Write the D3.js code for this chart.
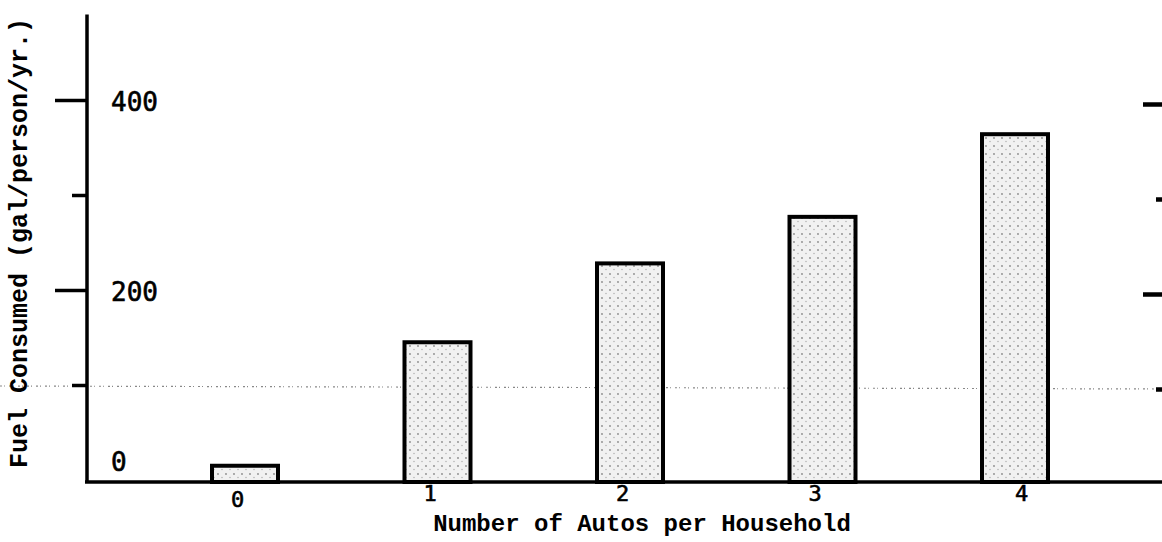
<!DOCTYPE html>
<html>
<head>
<meta charset="utf-8">
<script src="https://cdn.jsdelivr.net/npm/d3@7"></script>
<style>
  body { margin: 0; background: #fff; }
  svg { display: block; }
</style>
</head>
<body>
<div id="chart"></div>
<script>
const categories = ['0', '1', '2', '3', '4']
const fuelValues = [15, 145, 228, 277, 364]
const labelTicks = [0, 200, 400]
const majorTicks = [200, 400]
const minorTicks = [100, 300]

const width = 1162
const height = 542
const margin = { left: 87, right: 0, top: 14, bottom: 62 }

const svg = d3.select('#chart').append('svg').attr('width', width).attr('height', height)

const defs = svg.append('defs')
const pat = defs.append('pattern').attr('id', 'stipple')
    .attr('patternUnits', 'userSpaceOnUse').attr('width', 8).attr('height', 8)
pat.append('rect').attr('width', 8).attr('height', 8).attr('fill', '#f1f1f1')
pat.append('circle').attr('cx', 2).attr('cy', 2).attr('r', 0.9).attr('fill', '#8a8a8a')
pat.append('circle').attr('cx', 6).attr('cy', 5.5).attr('r', 0.7).attr('fill', '#aaa')

const xScale = d3.scalePoint().domain(categories).range([245, 1015])
const yScale = d3.scaleLinear().domain([0, 500]).range([480, 5])
const barWidth = 66

// faint scan line across the page
svg.append('line')
    .attr('x1', 0).attr('x2', width)
    .attr('y1', yScale(100) + 1).attr('y2', yScale(100) + 4)
    .attr('stroke', '#888').attr('stroke-width', 1.2).attr('stroke-dasharray', '2,2,1,4')

// bars
svg.append('g').selectAll('.bar')
    .data(fuelValues)
    .enter().append('rect').attr('class', 'bar')
    .attr('x', (d, i) => xScale(categories[i]) - barWidth / 2)
    .attr('y', d => yScale(d))
    .attr('width', barWidth)
    .attr('height', d => yScale(0) + 2 - yScale(d))
    .attr('fill', 'url(#stipple)')
    .attr('stroke', '#000').attr('stroke-width', 4)

// left axis ticks
const yArea = svg.append('g').attr('transform', `translate(${margin.left},0)`)
yArea.call(d3.axisLeft(yScale).tickValues(majorTicks.concat(minorTicks)).tickFormat('').tickSizeOuter(0))
yArea.select('.domain').remove()
yArea.selectAll('.tick line')
    .attr('x2', d => majorTicks.includes(d) ? -32 : -15)
    .attr('stroke', '#000').attr('stroke-width', 3.5)
yArea.append('line')
    .attr('x1', 0).attr('x2', 0)
    .attr('y1', yScale(0) + 3).attr('y2', yScale(490))
    .attr('stroke', '#000').attr('stroke-width', 3.5)

// right side ticks (edge of the page)
const rArea = svg.append('g').attr('transform', `translate(${width},4)`)
rArea.call(d3.axisLeft(yScale).tickValues(majorTicks.concat(minorTicks)).tickFormat('').tickSizeOuter(0))
rArea.select('.domain').remove()
rArea.selectAll('.tick line')
    .attr('x2', d => majorTicks.includes(d) ? -19 : -6)
    .attr('stroke', '#000').attr('stroke-width', 4.5)

// y tick labels, placed inside the plot
svg.append('g').selectAll('text')
    .data(labelTicks)
    .enter().append('text')
    .attr('x', 111)
    .attr('y', d => d === 0 ? yScale(d) - 9 : yScale(d) + 11)
    .attr('font-family', 'DejaVu Sans Mono')
    .attr('font-size', 26)
    .attr('stroke', '#000').attr('stroke-width', 0.6)
    .text(d => d)

// x axis
const xArea = svg.append('g').attr('transform', `translate(0,${yScale(0) + 2})`)
xArea.call(d3.axisBottom(xScale).tickSize(0).tickPadding(3))
xArea.select('.domain').remove()
xArea.selectAll('text')
    .attr('dx', d => d === '4' ? 6 : -8)
    .attr('dy', d => d === '0' ? '1.0em' : '0.71em')
    .attr('font-family', 'DejaVu Sans Mono')
    .attr('font-size', 22)
    .attr('stroke', '#000').attr('stroke-width', 0.6)
    .attr('fill', '#000')
svg.append('line')
    .attr('x1', margin.left - 2).attr('x2', width)
    .attr('y1', yScale(0) + 2).attr('y2', yScale(0) + 2)
    .attr('stroke', '#000').attr('stroke-width', 3.5)

// axis titles
svg.append('text')
    .attr('x', 642).attr('y', 531)
    .attr('text-anchor', 'middle')
    .attr('font-family', 'Liberation Mono')
    .attr('font-weight', 'bold')
    .attr('font-size', 24)
    .text('Number of Autos per Household')

svg.append('text')
    .attr('transform', 'translate(27,243) rotate(-90)')
    .attr('text-anchor', 'middle')
    .attr('font-family', 'Liberation Mono')
    .attr('font-weight', 'bold')
    .attr('font-size', 25)
    .text('Fuel Consumed (gal/person/yr.)')
</script>
</body>
</html>
